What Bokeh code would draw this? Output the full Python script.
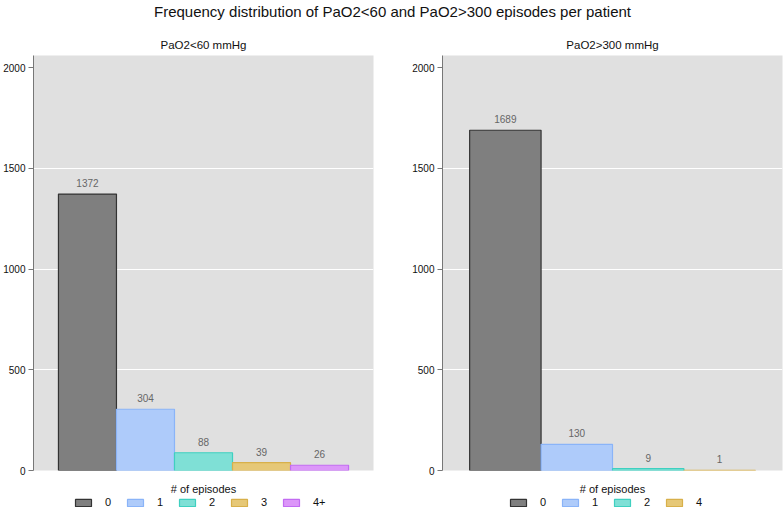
import numpy as np
from bokeh.plotting import figure
from bokeh.models import ColumnDataSource, Range1d, Legend, LegendItem, FixedTicker
from bokeh.layouts import column, row
from bokeh.embed import file_html
from bokeh.resources import INLINE
from bokeh.core.properties import value

main_title = "Frequency distribution of PaO2<60 and PaO2>300 episodes per patient"
left_title = "PaO2<60 mmHg"
right_title = "PaO2>300 mmHg"
legend_title = "# of episodes"

low_cats = ["0", "1", "2", "3", "4+"]
low_counts = [1372, 304, 88, 39, 26]

high_cats = ["0", "1", "2", "4"]
high_counts = [1689, 130, 9, 1]

y_ticks = [0, 500, 1000, 1500, 2000]
grid_ticks = [500, 1000, 1500]

fills = ["#7f7f7f", "#aecbfa", "#7fe0d6", "#e6c877", "#dc96f9"]
lines = ["#333333", "#8ab4f8", "#3fd0c0", "#d8b04a", "#c26cf2"]

REG = "Liberation Sans"


def make_source(cats, counts):
    n = len(cats)
    return ColumnDataSource(dict(
        x=list(range(n)),
        count=counts,
        cat=cats,
        label=[str(c) for c in counts],
        fill=fills[:n],
        line=lines[:n],
    ))


def make_panel(src, n, title_text, width, bl, br, pad):
    p = figure(width=width, height=449,
               x_range=Range1d(-0.5 - pad, n - 0.5 + pad),
               y_range=Range1d(0, 2060),
               output_backend="svg", toolbar_location=None,
               title=title_text,
               min_border_left=bl, min_border_right=br, min_border_bottom=10,
               background_fill_color="#e0e0e0", border_fill_color="white",
               outline_line_color=None)
    p.title.align = "center"
    p.title.text_font = REG
    p.title.text_font_size = "11.5px"
    p.title.text_font_style = "normal"
    p.title.text_color = "#111111"

    p.xaxis.visible = False
    p.xgrid.visible = False
    p.yaxis.ticker = FixedTicker(ticks=y_ticks)
    p.yaxis.axis_line_color = "#777777"
    p.yaxis.major_tick_line_color = "#777777"
    p.yaxis.major_tick_out = 5
    p.yaxis.major_tick_in = 0
    p.yaxis.minor_tick_line_color = None
    p.yaxis.major_label_text_font = REG
    p.yaxis.major_label_text_font_size = "10px"
    p.yaxis.major_label_text_color = "#111111"
    p.yaxis.major_label_standoff = 3
    p.ygrid.ticker = FixedTicker(ticks=grid_ticks)
    p.ygrid.grid_line_color = "white"
    p.ygrid.grid_line_width = 1.2

    p.vbar(x="x", top="count", width=1, source=src,
           fill_color="fill", line_color="line", line_width=1.2)
    p.text(x="x", y="count", text="label", source=src,
           text_align="center", text_baseline="bottom", y_offset=-7,
           text_font_size="10px", text_color="#666666",
           text_font=value(REG))
    return p


def make_legend(cats, width, bl, br):
    n = len(cats)
    # legend-sample source: colours per category, no drawable height (NaN),
    # so the renderer only supplies the legend swatches
    lsrc = ColumnDataSource(dict(
        x=np.arange(n, dtype=float),
        top=np.full(n, np.nan),
        fill=fills[:n],
        line=lines[:n],
    ))
    lf = figure(width=width, height=30,
                x_range=Range1d(0, 1), y_range=Range1d(0, 1),
                output_backend="svg", toolbar_location=None, title=legend_title,
                min_border_left=bl, min_border_right=br,
                min_border_top=0, min_border_bottom=0,
                background_fill_color="white", border_fill_color="white",
                outline_line_color=None)
    lf.title.align = "center"
    lf.title.text_font = REG
    lf.title.text_font_size = "11px"
    lf.title.text_font_style = "normal"
    lf.title.text_color = "#111111"
    lf.title.standoff = 0
    lf.axis.visible = False
    lf.grid.visible = False
    r = lf.vbar(x="x", top="top", width=0.1, source=lsrc,
                fill_color="fill", line_color="line", line_width=1.2)
    items = [LegendItem(label=cats[i], renderers=[r], index=i) for i in range(n)]
    leg = Legend(items=items, orientation="horizontal", location="center",
                 border_line_color=None, background_fill_alpha=0,
                 padding=0, margin=0, spacing=0,
                 glyph_width=20, glyph_height=9, label_height=12,
                 label_standoff=12, label_text_font=REG,
                 label_text_font_size="11px", label_text_color="#111111")
    lf.add_layout(leg, "center")
    return lf


low_src = make_source(low_cats, low_counts)
high_src = make_source(high_cats, high_counts)

p1 = make_panel(low_src, len(low_cats), left_title, 392, 33, 19, 0.43)
p2 = make_panel(high_src, len(high_cats), right_title, 392, 50, 2, 0.38)
l1 = make_legend(low_cats, 392, 33, 19)
l2 = make_legend(high_cats, 392, 50, 2)

tf = figure(width=784, height=31, x_range=Range1d(0, 1), y_range=Range1d(0, 1),
            output_backend="svg", toolbar_location=None, title=main_title,
            min_border_top=0, min_border_bottom=0, min_border_left=0, min_border_right=0,
            background_fill_color="white", border_fill_color="white",
            outline_line_color=None)
tf.title.align = "center"
tf.title.text_font = REG
tf.title.text_font_size = "15px"
tf.title.text_font_style = "normal"
tf.title.text_color = "#111111"
tf.title.standoff = 0
tf.axis.visible = False
tf.grid.visible = False

layout = column(tf, row(p1, p2), row(l1, l2))

open("out.html", "w").write(file_html(layout, INLINE))
